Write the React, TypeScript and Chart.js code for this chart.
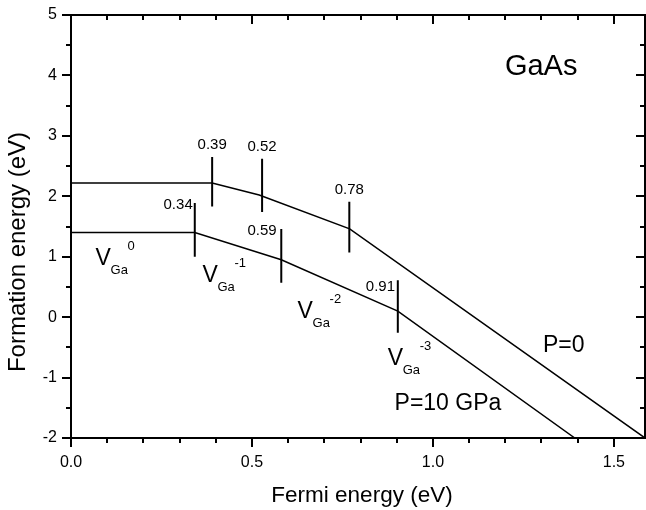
import { useEffect, useRef } from "react";
import { Chart, registerables } from "chart.js";

Chart.register(...registerables);

const FONT = "'Liberation Sans', Arial, Helvetica, sans-serif";

// Axis ticks
const xMajorTicks = [0, 0.5, 1.0, 1.5];
const xMinorTicks = [0.1, 0.2, 0.3, 0.4, 0.6, 0.7, 0.8, 0.9, 1.1, 1.2, 1.3, 1.4];
const yMajorTicks = [-2, -1, 0, 1, 2, 3, 4, 5];
const yMinorTicks = [-1.5, -0.5, 0.5, 1.5, 2.5, 3.5, 4.5];
const xMin = 0;
const xMax = 1.586;
const yMin = -2;
const yMax = 5;

// P=0 curve
const p0X = [0, 0.39, 0.52, 0.77, 1.586];
const p0Y = [2.22, 2.22, 2.02, 1.46, -2];
// P=10 GPa curve
const p10X = [0, 0.342, 0.581, 0.903, 1.392];
const p10Y = [1.4, 1.4, 0.95, 0.1, -2];

// Transition-level markers
const markX = [0.39, 0.528, 0.769, 0.342, 0.581, 0.903];
const markLow = [1.83, 1.74, 1.07, 1.0, 0.57, -0.26];
const markHigh = [2.65, 2.62, 1.91, 1.89, 1.46, 0.61];
const markLabels = ["0.39", "0.52", "0.78", "0.34", "0.59", "0.91"];
const markLabelX = [0.39, 0.528, 0.769, 0.296, 0.528, 0.855];
const markLabelY = [2.85, 2.82, 2.11, 1.86, 1.43, 0.5];

// Charge-state labels V_Ga^q
const chargeLabels = ["0", "-1", "-2", "-3"];
const chargeX = [0.068, 0.363, 0.626, 0.875];
const chargeY = [0.868, 0.587, -0.008, -0.785];

// Other text
const textLabels = ["GaAs", "P=0", "P=10 GPa"];
const textX = [1.199, 1.304, 0.894];
const textY = [4.01, -0.57, -1.53];
const textSize = [29, 23, 23];

const xTitle = "Fermi energy (eV)";
const yTitle = "Formation energy (eV)";

export default function App() {
  const ref = useRef<HTMLCanvasElement | null>(null);

  useEffect(() => {
    const canvas = ref.current;
    if (!canvas) return;

    const markData: any[] = [];
    markX.forEach((x, i) => {
      markData.push({ x, y: markLow[i] });
      markData.push({ x, y: markHigh[i] });
      markData.push({ x, y: null });
    });

    const decor = {
      id: "decor",
      afterDraw(chart: any) {
        const ctx = chart.ctx as CanvasRenderingContext2D;
        const a = chart.chartArea;
        const xs = chart.scales.x;
        const ys = chart.scales.y;
        ctx.save();
        ctx.strokeStyle = "#000";
        ctx.fillStyle = "#000";
        // frame
        ctx.lineWidth = 2;
        ctx.strokeRect(a.left, a.top, a.right - a.left, a.bottom - a.top);
        // ticks
        ctx.lineWidth = 2;
        const drawX = (v: number, len: number) => {
          const px = Math.round(xs.getPixelForValue(v));
          ctx.beginPath();
          ctx.moveTo(px, a.bottom);
          ctx.lineTo(px, a.bottom + len);
          ctx.moveTo(px, a.top);
          ctx.lineTo(px, a.top + len);
          ctx.stroke();
        };
        const drawY = (v: number, len: number) => {
          const py = Math.round(ys.getPixelForValue(v));
          ctx.beginPath();
          ctx.moveTo(a.left, py);
          ctx.lineTo(a.left - len, py);
          ctx.moveTo(a.right, py);
          ctx.lineTo(a.right - len, py);
          ctx.stroke();
        };
        xMajorTicks.forEach((v) => drawX(v, 9));
        xMinorTicks.forEach((v) => drawX(v, 5));
        yMajorTicks.forEach((v) => drawY(v, 9));
        yMinorTicks.forEach((v) => drawY(v, 5));

        // marker labels
        ctx.font = `15px ${FONT}`;
        ctx.textAlign = "center";
        ctx.textBaseline = "middle";
        markLabels.forEach((t, i) => {
          ctx.fillText(t, xs.getPixelForValue(markLabelX[i]), ys.getPixelForValue(markLabelY[i]));
        });

        // V_Ga^q labels
        ctx.textAlign = "left";
        ctx.textBaseline = "alphabetic";
        chargeLabels.forEach((q, i) => {
          const px = xs.getPixelForValue(chargeX[i]);
          const py = ys.getPixelForValue(chargeY[i]);
          ctx.font = `23px ${FONT}`;
          ctx.fillText("V", px, py);
          ctx.font = `13px ${FONT}`;
          ctx.fillText("Ga", px + 15, py + 9);
          ctx.fillText(q, px + 32, py - 15);
        });

        // other text
        textLabels.forEach((t, i) => {
          ctx.font = `${textSize[i]}px ${FONT}`;
          ctx.fillText(t, xs.getPixelForValue(textX[i]), ys.getPixelForValue(textY[i]));
        });

        // axis titles
        ctx.font = `22.5px ${FONT}`;
        ctx.textAlign = "center";
        ctx.fillText(xTitle, 362, 502);
        ctx.save();
        ctx.translate(25, 252);
        ctx.rotate(-Math.PI / 2);
        ctx.font = `24px ${FONT}`;
        ctx.fillText(yTitle, 0, 0);
        ctx.restore();
        ctx.restore();
      },
    };

    const chart = new Chart(canvas, {
      type: "scatter",
      data: {
        datasets: [
          {
            data: p0X.map((x, i) => ({ x, y: p0Y[i] })),
            showLine: true,
            borderColor: "#000",
            borderWidth: 1.5,
            pointRadius: 0,
            tension: 0,
          },
          {
            data: p10X.map((x, i) => ({ x, y: p10Y[i] })),
            showLine: true,
            borderColor: "#000",
            borderWidth: 1.5,
            pointRadius: 0,
            tension: 0,
          },
          {
            data: markData,
            showLine: true,
            spanGaps: false,
            borderColor: "#000",
            borderWidth: 2,
            pointRadius: 0,
          },
        ],
      },
      options: {
        animation: false,
        responsive: false,
        devicePixelRatio: 1,
        layout: { padding: { left: 0, right: 1, top: 15, bottom: 0 } },
        plugins: { legend: { display: false }, tooltip: { enabled: false } },
        scales: {
          x: {
            type: "linear",
            min: xMin,
            max: xMax,
            grid: { display: false, drawTicks: false },
            border: { display: false },
            afterBuildTicks: (s: any) => {
              s.ticks = xMajorTicks.map((v) => ({ value: v }));
            },
            afterFit: (s: any) => {
              s.height = 72;
              s.paddingLeft = 0;
              s.paddingRight = 0;
            },
            ticks: {
              autoSkip: false,
              maxRotation: 0,
              padding: 15,
              color: "#000",
              font: { family: FONT, size: 16 },
              callback: (v: any) => Number(v).toFixed(1),
            },
          },
          y: {
            type: "linear",
            min: yMin,
            max: yMax,
            grid: { display: false, drawTicks: false },
            border: { display: false },
            afterBuildTicks: (s: any) => {
              s.ticks = yMajorTicks.map((v) => ({ value: v }));
            },
            afterFit: (s: any) => {
              s.width = 71;
              s.paddingTop = 0;
              s.paddingBottom = 0;
            },
            ticks: {
              autoSkip: false,
              padding: 14,
              color: "#000",
              font: { family: FONT, size: 16 },
              callback: (v: any) => String(v),
            },
          },
        },
      },
      plugins: [decor],
    } as any);

    return () => chart.destroy();
  }, []);

  return (
    <div style={{ position: "absolute", left: 0, top: 0, width: 646, height: 510, background: "#fff" }}>
      <canvas ref={ref} width={646} height={510} style={{ display: "block" }} />
    </div>
  );
}
